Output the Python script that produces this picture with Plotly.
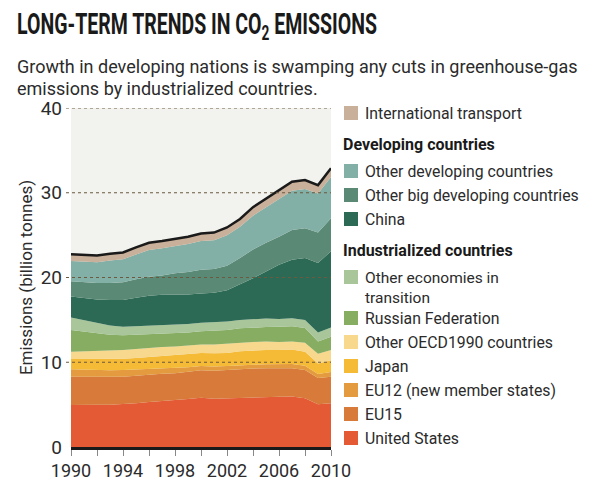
import numpy as np
import plotly.graph_objects as go

years = list(range(1990, 2011))

# Emissions by group (billion tonnes CO2)
united_states = [4.96, 4.94, 4.98, 5.00, 5.05, 5.15, 5.30, 5.45, 5.55, 5.65, 5.80,
                 5.70, 5.75, 5.80, 5.90, 5.95, 5.92, 5.95, 5.75, 5.05, 5.15]
eu15 = [3.34, 3.36, 3.30, 3.28, 3.25, 3.25, 3.25, 3.20, 3.15, 3.20, 3.25,
        3.30, 3.35, 3.35, 3.35, 3.35, 3.38, 3.35, 3.35, 3.10, 3.15]
eu12 = [0.87, 0.82, 0.79, 0.77, 0.80, 0.75, 0.70, 0.65, 0.60, 0.55, 0.50,
        0.50, 0.45, 0.50, 0.45, 0.45, 0.45, 0.48, 0.50, 0.45, 0.55]
japan = [1.22, 1.26, 1.28, 1.32, 1.30, 1.35, 1.40, 1.45, 1.55, 1.55, 1.55,
         1.55, 1.55, 1.65, 1.70, 1.70, 1.70, 1.72, 1.65, 1.25, 1.40]
other_oecd = [0.86, 0.90, 0.95, 0.98, 1.05, 1.05, 1.05, 1.05, 1.00, 1.00, 1.00,
              1.05, 1.10, 1.05, 1.00, 1.00, 0.95, 0.95, 1.05, 1.15, 1.20]
russia = [2.55, 2.32, 2.10, 1.90, 1.75, 1.70, 1.65, 1.60, 1.55, 1.55, 1.55,
          1.60, 1.60, 1.65, 1.70, 1.70, 1.80, 1.80, 1.75, 1.45, 1.55]
other_transition = [1.47, 1.35, 1.20, 1.10, 1.00, 1.00, 1.00, 1.00, 1.00, 1.00, 1.00,
                    1.00, 1.00, 1.00, 1.00, 1.00, 0.90, 0.95, 0.95, 1.05, 1.10]
china = [2.48, 2.60, 2.80, 3.00, 3.15, 3.35, 3.50, 3.55, 3.55, 3.50, 3.45,
         3.50, 3.70, 4.20, 4.80, 5.55, 6.40, 6.90, 7.30, 8.20, 9.00]
other_big_dev = [1.80, 1.90, 1.95, 2.00, 2.10, 2.20, 2.25, 2.30, 2.55, 2.65, 2.80,
                 2.80, 2.90, 3.10, 3.40, 3.40, 3.30, 3.50, 3.50, 3.60, 3.90]
other_dev = [2.40, 2.45, 2.45, 2.65, 2.70, 2.90, 3.15, 3.20, 3.20, 3.30, 3.40,
             3.40, 3.60, 3.70, 4.00, 4.20, 4.50, 4.65, 4.65, 4.60, 4.85]
intl_transport = [0.80, 0.80, 0.80, 0.80, 0.80, 0.85, 0.85, 0.85, 0.85, 0.85, 0.90,
                  0.90, 0.90, 0.90, 1.00, 1.00, 1.00, 1.05, 1.05, 1.00, 1.05]

x_tick_labels = ["1990", "1994", "1998", "2002", "2006", "2010"]
y_ticks = [0, 10, 20, 30, 40]

series = [
    ("United States", united_states, "#E35A34"),
    ("EU15", eu15, "#D87A3A"),
    ("EU12 (new member states)", eu12, "#E49A3E"),
    ("Japan", japan, "#F5BA36"),
    ("Other OECD1990 countries", other_oecd, "#F8D88C"),
    ("Russian Federation", russia, "#86AD62"),
    ("Other economies in transition", other_transition, "#A8C69A"),
    ("China", china, "#2C6A56"),
    ("Other big developing countries", other_big_dev, "#5A8A75"),
    ("Other developing countries", other_dev, "#82AFA6"),
    ("International transport", intl_transport, "#C8B09A"),
]

# plot area in pixels
W_FIG, H_FIG = 600, 496
L, R, T, B = 71, 331, 108, 447
PW, PH = R - L, B - T

def px(x):
    return (x - L) / PW

def py(y):
    return (B - y) / PH

fig = go.Figure()
for name, vals, col in series:
    fig.add_trace(go.Scatter(
        x=years, y=vals, name=name, stackgroup="one", mode="lines",
        line=dict(width=0, color=col), fillcolor=col, showlegend=False,
        hoverinfo="skip"))

total = np.sum([s[1] for s in series], axis=0)
fig.add_trace(go.Scatter(x=years, y=total, mode="lines",
                         line=dict(color="#1a1a1a", width=2.5),
                         showlegend=False, hoverinfo="skip"))

BODY = "Roboto, 'Open Sans', sans-serif"
TXT = "#2b2b2b"

annotations = []
shapes = []

# dotted gridlines drawn over the areas
for v in y_ticks[1:]:
    shapes.append(dict(type="line", xref="paper", yref="y", x0=px(66), x1=1,
                       y0=v, y1=v, layer="above",
                       line=dict(color="#6b5a40", width=1.2, dash="dot")))

# title & subtitle
annotations.append(dict(
    text="<b>LONG-TERM TRENDS IN CO<sub>2</sub> EMISSIONS</b>",
    xref="paper", yref="paper", x=px(15), y=py(4), xanchor="left", yanchor="top",
    showarrow=False, font=dict(family="Roboto, sans-serif", size=30, color="#1a1a1a")))
for i, line in enumerate(["Growth in developing nations is swamping any cuts in greenhouse-gas",
                          "emissions by industrialized countries."]):
    annotations.append(dict(
        text=line, xref="paper", yref="paper", x=px(15), y=py(67 + 21 * i),
        xanchor="left", yanchor="middle", align="left", showarrow=False,
        font=dict(family=BODY, size=18, color=TXT)))

# legend
legend_rows = [
    ("International transport", 113, None),
    ("Developing countries", 144, "head"),
    ("Other developing countries", 171, None),
    ("Other big developing countries", 195, None),
    ("China", 219, None),
    ("Industrialized countries", 250, "head"),
    ("Other economies in transition", 277, "wrap"),
    ("Russian Federation", 318, None),
    ("Other OECD1990 countries", 342, None),
    ("Japan", 366, None),
    ("EU12 (new member states)", 390, None),
    ("EU15", 414, None),
    ("United States", 438, None),
]
colmap = {s[0]: s[2] for s in series}
for label, yc, kind in legend_rows:
    if kind == "head":
        annotations.append(dict(
            text="<b>" + label + "</b>", xref="paper", yref="paper",
            x=px(341), y=py(yc), xanchor="left", yanchor="middle", showarrow=False,
            font=dict(family=BODY, size=16, color="#1a1a1a")))
        continue
    shapes.append(dict(type="rect", xref="paper", yref="paper",
                       x0=px(344), x1=px(358), y0=py(yc + 7), y1=py(yc - 7),
                       fillcolor=colmap[label], line=dict(width=0)))
    if kind == "wrap":
        annotations.append(dict(
            text="Other economies in<br>transition", xref="paper", yref="paper",
            x=px(363), y=py(yc - 10), xanchor="left", yanchor="top", align="left",
            showarrow=False, font=dict(family=BODY, size=15.5, color=TXT)))
    else:
        annotations.append(dict(
            text=label, xref="paper", yref="paper", x=px(363), y=py(yc),
            xanchor="left", yanchor="middle", align="left", showarrow=False,
            font=dict(family=BODY, size=15.8, color=TXT)))

fig.update_layout(
    width=W_FIG, height=H_FIG,
    margin=dict(l=L, r=W_FIG - R, t=T, b=H_FIG - B, pad=0),
    paper_bgcolor="white", plot_bgcolor="#F2F2EE",
    annotations=annotations, shapes=shapes,
    font=dict(family=BODY, color=TXT),
)
fig.update_xaxes(
    range=[1990, 2010], tickvals=[int(t) for t in x_tick_labels], ticktext=x_tick_labels,
    ticks="outside", ticklen=6, tickcolor="#888", tickwidth=1,
    minor=dict(tickvals=list(range(1990, 2011, 2)), ticks="outside", ticklen=6,
               tickcolor="#888"),
    showline=True, linecolor="#1a1a1a", linewidth=2.5,
    showgrid=False, zeroline=False,
    tickfont=dict(size=18, color=TXT, family=BODY))
fig.update_yaxes(
    range=[0, 40], tickvals=y_ticks,
    showgrid=False, zeroline=False, showline=False, ticks="", ticklabelstandoff=8,
    tickfont=dict(size=19, color=TXT, family=BODY),
    title=dict(text="Emissions (billion tonnes)", font=dict(size=17, color=TXT, family=BODY),
               standoff=3))

post_js = """
document.body.style.margin = '0';
var gd = document.getElementById('{plot_id}');
gd.querySelectorAll('text.annotation-text').forEach(function (t) {
  if (t.textContent.indexOf('LONG-TERM') >= 0) {
    var bb = t.getBBox();
    var s = 360 / bb.width;
    if (s < 1) {
      t.setAttribute('transform', 'translate(' + (bb.x * (1 - s)) + ',0) scale(' + s + ',1)');
    }
  }
});
"""

fig.write_html("out.html", post_script=post_js, config={"displayModeBar": False})
